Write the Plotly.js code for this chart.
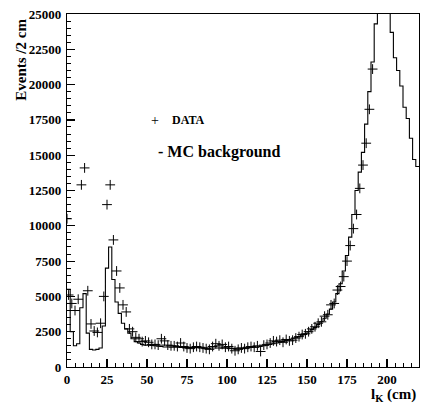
<!DOCTYPE html>
<html>
<head>
<meta charset="utf-8">
<script src="https://cdn.plot.ly/plotly-3.0.1.min.js"></script>
<style>
  html, body { margin: 0; padding: 0; background: #fff; }
  #chart { width: 427px; height: 404px; }
</style>
</head>
<body>
<div id="chart"></div>
<script>
// MC background histogram: counts per 2 cm bin from 0 to 220 cm
const binStart = 0;
const binWidth = 2;
const mcCounts = [
  5500, 2500, 1500, 1650, 4200, 5200, 2400, 1250, 1200, 1250,
  1350, 2900, 7000, 8500, 6200, 4600, 3800, 3100, 2700, 2400,
  2000, 1800, 1700, 1600, 1550, 1550, 1530, 1500, 1480, 1450,
  1420, 1420, 1400, 1400, 1400, 1380, 1380, 1380, 1380, 1370,
  1370, 1360, 1360, 1350, 1350, 1350, 1350, 1350, 1340, 1340,
  1330, 1330, 1330, 1330, 1330, 1350, 1360, 1380, 1400, 1420,
  1450, 1500, 1550, 1600, 1650, 1700, 1750, 1800, 1870, 1950,
  2000, 2070, 2150, 2250, 2350, 2500, 2650, 2800, 3000, 3200,
  3450, 3750, 4100, 4600, 5200, 5900, 6800, 7900, 9200, 10800,
  12500, 13800, 15200, 17200, 19500, 21600, 24300, 27000, 31000, 32000,
  28000, 23700, 21900, 21000, 19900, 18400, 17600, 16200, 14700, 14200
];

// DATA points (bin centres, cm) and counts
const dataX = [
  0, 1, 3, 5, 7, 9, 11, 13, 15, 17, 19,
  21, 23, 25, 27, 29, 31, 33, 35, 37, 39,
  41, 43, 45, 47, 49, 51, 53, 55, 57, 59,
  61, 63, 65, 67, 69, 71, 73, 75, 77, 79,
  81, 83, 85, 87, 89, 91, 93, 95, 97, 99,
  101, 103, 105, 107, 109, 111, 113, 115, 117, 119,
  121, 123, 125, 127, 129, 131, 133, 135, 137, 139,
  141, 143, 145, 147, 149, 151, 153, 155, 157, 159,
  161, 163, 165, 167, 169, 171, 173, 175, 177, 179,
  181, 183, 185, 187, 189, 191
];
const dataY = [
  10500, 5100, 4500, 4000, 4800, 12900, 14100, 5400, 3050, 2550, 2450,
  3100, 5000, 11500, 12900, 9000, 6800, 5600, 4400, 3900, 2700,
  2500, 2100, 2000, 1800, 1850, 1750, 1600, 1600, 1550, 2000,
  1850, 1550, 1500, 1500, 1450, 1700, 1450, 1350, 1300, 1400,
  1450, 1400, 1350, 1300, 1250, 1450, 1650, 1500, 1600, 1400,
  1450, 1300, 1150, 1250, 1350, 1300, 1400, 1450, 1400, 1500,
  1100, 1550, 1600, 1700, 1850, 1800, 1900, 1750, 1950, 1850,
  1900, 2050, 2150, 2300, 2350, 2500, 2700, 2850, 3100, 3200,
  3600, 3700, 4400, 4500, 5450, 5700, 6400, 7500, 8600, 9800,
  10800, 12650, 14300, 15850, 18250, 21100
];

const xTickVals = [0, 25, 50, 75, 100, 125, 150, 175, 200];
const xTickText = ['0', '25', '50', '75', '100', '125', '150', '175', '200'];
const yTickVals = [0, 2500, 5000, 7500, 10000, 12500, 15000, 17500, 20000, 22500, 25000];
const yTickText = ['0', '2500', '5000', '7500', '10000', '12500', '15000', '17500', '20000', '22500', '25000'];

// build step-histogram arrays from the bins
const mcX = [];
const mcY = [];
for (let i = 0; i < mcCounts.length; i++) {
  mcX.push(binStart + i * binWidth);
  mcY.push(mcCounts[i]);
}
mcX.push(binStart + mcCounts.length * binWidth);
mcY.push(mcCounts[mcCounts.length - 1]);

const serif = 'Liberation Serif, Times New Roman, serif';
const bold = s => '<b>' + s + '</b>';

const traces = [
  {
    x: mcX, y: mcY, type: 'scatter', mode: 'lines',
    line: { shape: 'hv', color: '#000', width: 1.1 },
    hoverinfo: 'skip', showlegend: false
  },
  {
    x: dataX, y: dataY, type: 'scatter', mode: 'markers',
    marker: { symbol: 'cross-thin-open', size: 7, color: '#000', line: { color: '#000', width: 1 } },
    showlegend: false
  }
];

const axisCommon = {
  showgrid: false, zeroline: false, showline: true, mirror: true,
  linecolor: '#000', linewidth: 1.2,
  ticks: 'inside', tickcolor: '#000', tickwidth: 1.2, ticklen: 8,
  tickfont: { family: serif, size: 13, color: '#000' }
};

const layout = {
  width: 427, height: 404,
  margin: { l: 67, r: 8, t: 14, b: 37 },
  font: { family: serif, color: '#000' },
  paper_bgcolor: '#fff', plot_bgcolor: '#fff',
  showlegend: false,
  xaxis: Object.assign({}, axisCommon, {
    range: [0, 220], tickmode: 'array', tickvals: xTickVals, ticktext: xTickText.map(bold),
    minor: { dtick: 5, tick0: 0, ticks: 'inside', ticklen: 4, tickcolor: '#000', tickwidth: 1 }
  }),
  yaxis: Object.assign({}, axisCommon, {
    range: [0, 25000], tickmode: 'array', tickvals: yTickVals, ticktext: yTickText.map(bold),
    ticklabelstandoff: 2,
    minor: { dtick: 500, tick0: 0, ticks: 'inside', ticklen: 4, tickcolor: '#000', tickwidth: 1 }
  }),
  annotations: [
    { text: '<b>Events /2 cm</b>', xref: 'paper', yref: 'paper', x: -0.131, y: 0.87,
      xanchor: 'center', yanchor: 'middle', textangle: -90, showarrow: false,
      font: { family: serif, size: 15, color: '#000' } },
    { text: '<b>l<sub>K</sub> (cm)</b>', xref: 'paper', yref: 'paper', x: 0.995, y: -0.079,
      xanchor: 'right', yanchor: 'middle', showarrow: false, borderpad: 0,
      font: { family: serif, size: 15, color: '#000' } },
    { text: '+', xref: 'paper', yref: 'paper', x: 0.25, y: 0.699,
      xanchor: 'center', yanchor: 'middle', showarrow: false,
      font: { family: serif, size: 14, color: '#000' } },
    { text: '<b>DATA</b>', xref: 'paper', yref: 'paper', x: 0.293, y: 0.699,
      xanchor: 'left', yanchor: 'middle', showarrow: false,
      font: { family: serif, size: 12, color: '#000' } },
    { text: '<b>- MC background</b>', xref: 'paper', yref: 'paper', x: 0.254, y: 0.609,
      xanchor: 'left', yanchor: 'middle', showarrow: false,
      font: { family: serif, size: 16, color: '#000' } }
  ]
};

Plotly.newPlot('chart', traces, layout, { displayModeBar: false, staticPlot: true });
</script>
</body>
</html>
